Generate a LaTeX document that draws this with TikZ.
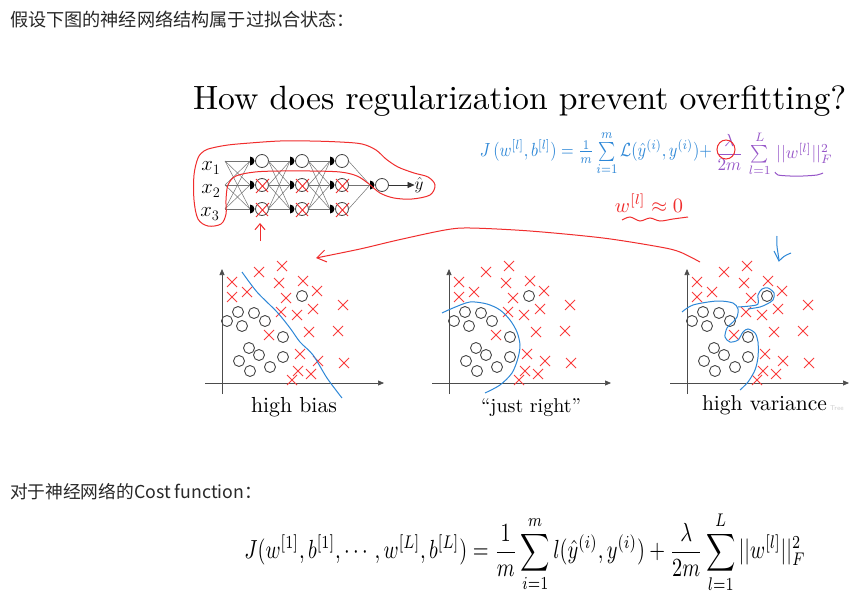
\documentclass[tikz,border=0pt]{standalone}
\usepackage{amsmath,amssymb}
\usepackage{fontspec}
\usetikzlibrary{arrows.meta}
\newfontfamily\cjk{Noto Sans CJK SC}
\newcommand\FitW[2]{\resizebox{#1}{!}{#2}}
\definecolor{hblue}{RGB}{45,135,215}
\definecolor{hred}{RGB}{240,45,45}
\definecolor{hpurple}{RGB}{150,85,200}
\definecolor{xred}{RGB}{250,60,60}
\definecolor{ocirc}{RGB}{70,70,70}
\definecolor{txt}{RGB}{40,40,40}
\tikzset{
  neuron/.style={circle,draw=ocirc,fill=white,line width=0.8pt,minimum size=13pt,inner sep=0pt},
  wire/.style={draw=black!55,line width=0.5pt},
  axisline/.style={draw=black!70,line width=0.7pt,-{Triangle[length=6pt,width=5pt]}},
  xm/.pic={\draw[xred,line width=0.9pt] (-5,-5)--(5,5) (-5,5)--(5,-5);},
  om/.pic={\draw[ocirc,line width=0.9pt] (0,0) circle[radius=5.5];},
  bnd/.style={draw=hblue,line width=1pt},
}
\begin{document}
\begin{tikzpicture}[x=1pt,y=-1pt,every node/.style={inner sep=0pt,outer sep=0pt}]
\useasboundingbox (0,0) rectangle (860,594);
\fill[white] (0,0) rectangle (860,594);

% texts
\node[anchor=west,text=txt] (q1) at (10,20) {\FitW{345pt}{\cjk 假设下图的神经网络结构属于过拟合状态：}};
\node[anchor=base west] (title) at (193,109) {\FitW{653pt}{How does regularization prevent overfitting?}};
\node[anchor=west,text=txt] (q2) at (10,492) {\FitW{252pt}{\cjk 对于神经网络的Cost function：}};
\node (eq) at (525,552) {\resizebox*{561pt}{82pt}{$\displaystyle J(w^{[1]},b^{[1]},\cdots,w^{[L]},b^{[L]})=\frac{1}{m}\sum_{i=1}^{m}l(\hat y^{(i)},y^{(i)})+\frac{\lambda}{2m}\sum_{l=1}^{L}||w^{[l]}||_F^2$}};

% network
\foreach \r/\y in {1/161,2/185,3/209}{
  \coordinate (in\r) at (225,\y);
  \foreach \l/\x in {1/262,2/302,3/342}{
    \node[neuron] (n\l\r) at (\x,\y) {};
    \coordinate (b\l\r) at (\x-12,\y);
  }
}
\node[neuron] (out) at (382,185) {};
\coordinate (bout) at (370,185);
\foreach \r in {1,2,3}{
  \foreach \s in {1,2,3}{
    \draw[wire] (in\r) -- (b1\s);
    \draw[wire] (n1\r.east) -- (b2\s);
    \draw[wire] (n2\r.east) -- (b3\s);
  }
  \draw[wire] (n3\r.east) -- (bout);
}
\foreach \l in {1,2,3}{\foreach \r in {1,2,3}{
  \fill (b\l\r) ++(0,4.5) arc[start angle=90,end angle=-90,radius=4.5] -- cycle;}}
\fill (bout) ++(0,4.5) arc[start angle=90,end angle=-90,radius=4.5] -- cycle;
\node (x1) at (211,168) {\fontsize{20}{22}\selectfont$x_1$};
\node (x2) at (211,191) {\fontsize{20}{22}\selectfont$x_2$};
\node (x3) at (210,214) {\fontsize{20}{22}\selectfont$x_3$};
\node (yhat) at (419,185) {\fontsize{19}{21}\selectfont$\hat y$};
\draw[black!80,line width=0.6pt,-{Triangle[length=7pt,width=6pt]}] (out.east) -- (yhat.west);
\foreach \l in {1,2,3}{\foreach \r in {2,3}{
  \draw[hred,line width=0.9pt] ([shift={(-6,8)}]n\l\r.center) -- ([shift={(7,-6)}]n\l\r.center)
        ([shift={(-6,-6)}]n\l\r.center) -- ([shift={(6,7)}]n\l\r.center);}}
\draw[hred,line width=1pt] plot[smooth cycle,tension=0.55] coordinates {
 (212,148) (228,145) (250,143) (280,141) (310,141) (340,142) (362,144) (376,150) (386,159)
 (398,167) (414,173) (428,177) (435,185) (430,195) (412,199) (394,198) (380,193) (369,184)
 (357,176) (340,172) (310,171) (280,171) (255,172) (236,176) (228,185) (226,200) (226,214)
 (221,224) (208,226) (198,219) (194,200) (194,175) (198,158) (204,151)};
\coordinate (ra1) at (260,241);
\coordinate (ra2) at (260,223);
\draw[hred,line width=1pt,-{Straight Barb[length=6pt,width=10pt]}] (ra1) -- (ra2);

% handwritten formulas
\node (hf1) at (596,153) {\color{hblue}\resizebox*{232pt}{1.9\totalheight}{$J\,(w^{[l]},b^{[l]}) = \tfrac{1}{m}\sum\limits_{i=1}^{m}\mathcal{L}(\hat y^{(i)},y^{(i)}) +$}};
\node (hf2) at (774,154) {\color{hpurple}\resizebox*{117pt}{1.75\totalheight}{$\dfrac{\lambda}{2m}\,\sum\limits_{l=1}^{L}\,||w^{[l]}||_F^2$}};
\node (hf3) at (649,203) {\color{hred}\resizebox*{68pt}{18pt}{$w^{[l]}\approx 0$}};
\draw[hred,line width=1pt] (726,149.5) ellipse[x radius=9,y radius=9.5];
\draw[hpurple,line width=1pt] plot[smooth] coordinates {(775,172) (778,175) (790,176) (803,176) (817,175) (823,173)};
\draw[hred,line width=1pt] plot[smooth] coordinates {(622,220) (630,217) (640,221) (650,218) (660,221) (673,219) (688,217)};

% big red arrow
\coordinate (ca1) at (700,262);
\coordinate (ca2) at (318,258);
\draw[hred,line width=1pt,-{Straight Barb[length=9pt,width=12pt]}] plot[smooth] coordinates {(700,262) (680,252) (660,247) (603,238) (530,231) (470,228) (445,230) (398,240) (360,249) (316,258)};
% blue small arrow
\draw[hblue,line width=1pt] (777,236) .. controls (776,245) and (778,252) .. (779,260);
\draw[hblue,line width=1pt] (774,251) -- (779,261) .. controls (784,256) .. (791,253);

% plots
\foreach \dx in {0,227,465}{
  \draw[axisline] ({205+\dx},383) -- ({384+\dx},383);
  \draw[axisline] ({222+\dx},394) -- ({222+\dx},269);
  \foreach \a/\b in {232/282,232/297,247/292,259/272,282/266,279/283,303/281,317/291,286/298,281/312,297/315,313/309,343/305,309/332,338/331,269/335,300/354,318/361,344/363,298/371,311/374,292/380}
    \pic at ({\a+\dx},\b) {xm};
  \foreach \a/\b in {302/296,227/321,238/312,254/313,265/321,242/326,283/337,249/348,259/355,239/361,283/357,270/367,250/371}
    \pic at ({\a+\dx},\b) {om};
}
\draw[bnd] plot[smooth] coordinates {(242,272) (257,292) (277,312) (290,328) (300,342) (313,355) (327,378) (342,398)};
\draw[bnd] plot[smooth] coordinates {(442,313) (453,308) (470,302) (487,304) (500,310) (510,320) (517,332) (520,345) (518,358) (512,373) (500,385) (485,393)};
\draw[bnd] plot[smooth] coordinates {(682,312) (693,305) (717,301) (733,303) (738,309) (737,317) (733,322) (727,328) (725,337) (730,342) (738,340) (743,332) (748,329) (755,333) (758,342) (758,357) (755,370) (748,382) (740,390)};
\draw[bnd] plot[smooth] coordinates {(738,307) (750,306) (758,304) (758,295) (762,289) (768,288) (774,293) (773,300) (767,304) (760,307) (748,309)};

\node[anchor=base west] (l1) at (251,412) {\FitW{86pt}{high bias}};
\node[anchor=base west] (l2) at (481,412) {\FitW{100pt}{``just right''}};
\node[anchor=base west] (l3) at (702,410) {\FitW{125pt}{high variance}};
\node[anchor=base west,text=black!18,font=\sffamily\fontsize{7}{8}\selectfont] (wm) at (830,410) {Tree};
\end{tikzpicture}
\end{document}
